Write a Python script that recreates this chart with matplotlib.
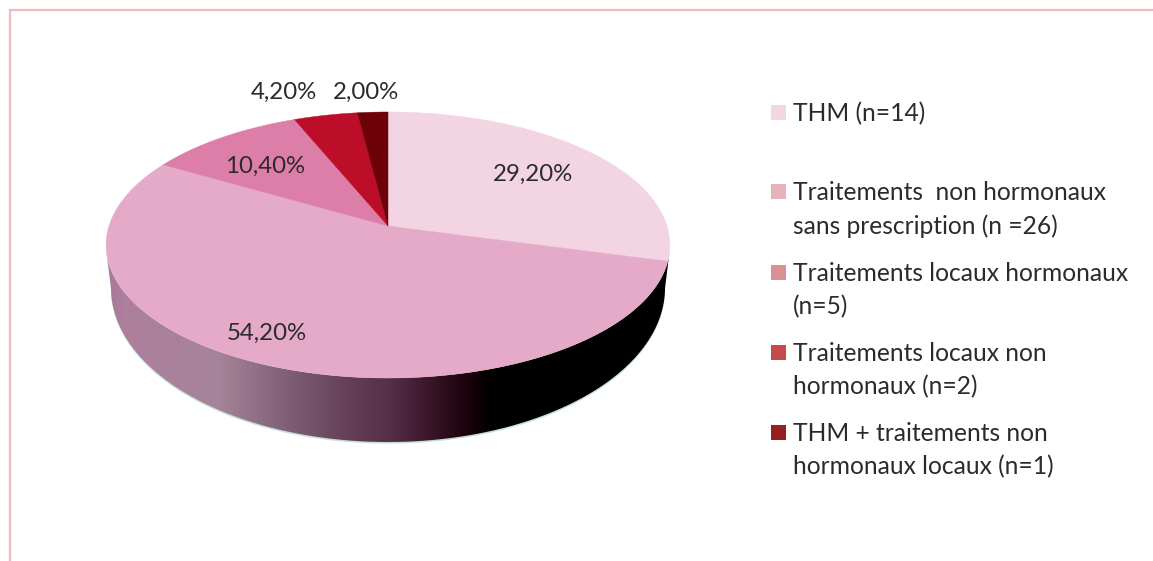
import numpy as np
import matplotlib
matplotlib.use("Agg")
import matplotlib.pyplot as plt
from matplotlib.colors import LinearSegmentedColormap
from matplotlib.patches import Polygon, Rectangle

# ---- data ----
categories = ["THM", "Traitements non hormonaux sans prescription",
              "Traitements locaux hormonaux", "Traitements locaux non hormonaux",
              "THM + traitements non hormonaux locaux"]
values = [29.2, 54.2, 10.4, 4.2, 2.0]
value_labels = ["29,20%", "54,20%", "10,40%", "4,20%", "2,00%"]
legend_lines = [["THM (n=14)"],
                ["Traitements  non hormonaux", "sans prescription (n =26)"],
                ["Traitements locaux hormonaux", "(n=5)"],
                ["Traitements locaux non", "hormonaux (n=2)"],
                ["THM + traitements non", "hormonaux locaux (n=1)"]]

# ---- style ----
top_colors = ["#f2d4e2", "#e5aac8", "#dc7ea8", "#bc0e28", "#6e0008"]
swatch_colors = ["#f2d8dc", "#e6b3b8", "#da9095", "#c44a4c", "#952022"]
label_pos = [(533, 174), (267, 333), (265, 166), (284, 92), (366, 92)]
legend_first_baseline = [121, 200, 281, 361, 441]
line_step = 33.5
txt = "#2b2b2b"
FONT = "Lato"
FS_LEGEND = 17.7
FS_LABEL = 17.3

fig = plt.figure(figsize=(11.53, 5.61), dpi=100)
ax = fig.add_axes([0, 0, 1, 1])
ax.set_xlim(0, 1153)
ax.set_ylim(561, 0)
ax.axis("off")

# frame
ax.plot([10, 10, 1153], [561, 10, 10], color="#eebcbd", lw=1.6, solid_joinstyle="miter", zorder=1)

# perspective projection of the pie disc
CX, CY, K, B = 388.0, 226.0, 1 / 7, 130.3


def project(theta, r=1.0, a=279.0):
    """theta measured clockwise from 12 o'clock."""
    x = r * np.sin(theta)
    y = r * np.cos(theta)
    d = 1 + K * y
    return CX + a * x / d, CY - B * y / d


# side: upper edge follows the disc, lower edge is the rim of the base
th = np.linspace(1.75, 2 * np.pi - 1.75, 300)
tx, ty = project(th)
t2 = np.linspace(0, np.pi, 300)
bx = CX + 277 * np.cos(t2)
by = 288 + 154 * np.sin(t2)
side = np.column_stack([np.r_[tx, bx[::-1]], np.r_[ty, by[::-1]]])

# thin pale fringe under the side
ax.add_patch(Polygon(side + [0, 1.6], closed=True, fc="#c6dfdc", ec="none", zorder=2))

cmap = LinearSegmentedColormap.from_list("side", [
    (0.00, "#a87a98"), (0.03, "#ad7f9c"), (0.20, "#a58498"), (0.32, "#7f5f76"),
    (0.45, "#5f3a50"), (0.50, "#55304a"), (0.575, "#3a1628"), (0.63, "#200410"),
    (0.68, "#000000"), (1.00, "#000000")])
im = ax.imshow(np.linspace(0, 1, 600)[None, :], cmap=cmap, aspect="auto",
               extent=(106, 671, 445, 225), zorder=3)
clip = Polygon(side, closed=True, transform=ax.transData, fc="none", ec="none")
ax.add_patch(clip)
im.set_clip_path(clip)
ax.set_xlim(0, 1153)
ax.set_ylim(561, 0)

# top wedges, driven by the values
edges = np.r_[0, np.cumsum(values)] / np.sum(values) * 2 * np.pi
for start, stop, color in zip(edges[:-1], edges[1:], top_colors):
    t = np.linspace(start, stop, max(int((stop - start) * 90), 8))
    px, py = project(t)
    ax.fill(np.r_[CX, px], np.r_[CY, py], color=color, lw=0.3, zorder=4)

# value labels
for label, (x, y) in zip(value_labels, label_pos):
    ax.text(x, y, label, ha="center", va="center", fontsize=FS_LABEL, family=FONT, color=txt, zorder=5)

# legend
for lines, base, color in zip(legend_lines, legend_first_baseline, swatch_colors):
    ax.add_patch(Rectangle((771, base - 16.5), 15, 15, fc=color, ec="none", zorder=5))
    for i, line in enumerate(lines):
        ax.text(793, base + i * line_step, line, ha="left", va="baseline",
                fontsize=FS_LEGEND, family=FONT, color=txt, zorder=5)

fig.savefig("out.png", dpi=100)
